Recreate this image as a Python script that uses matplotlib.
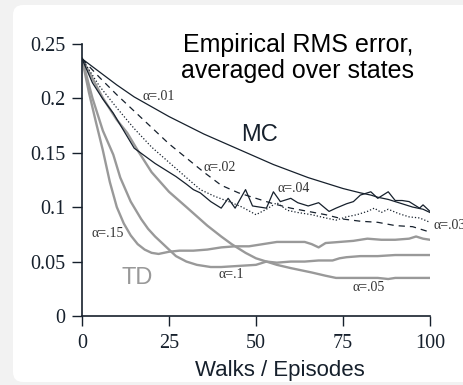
import matplotlib
matplotlib.use("Agg")
import matplotlib.pyplot as plt
from matplotlib.patches import FancyBboxPatch

# MC curves (black), RMS error vs. walks
mc01_x = [0, 5, 10, 15, 20, 25, 30, 35, 40, 45, 50, 55, 60, 65, 70, 75, 80, 83, 85, 88, 90, 93, 95, 98, 100]
mc01_y = [0.236, 0.224, 0.212, 0.201, 0.192, 0.183, 0.175, 0.167, 0.160, 0.153, 0.146, 0.139, 0.133, 0.127, 0.122, 0.117, 0.113, 0.111, 0.109, 0.107, 0.105, 0.102, 0.100, 0.098, 0.095]

mc02_x = [0, 5, 10, 15, 20, 25, 30, 35, 40, 45, 50, 55, 60, 65, 70, 75, 80, 85, 90, 95, 100]
mc02_y = [0.236, 0.219, 0.203, 0.188, 0.173, 0.158, 0.145, 0.132, 0.120, 0.113, 0.108, 0.103, 0.099, 0.096, 0.093, 0.089, 0.087, 0.086, 0.083, 0.082, 0.077]

mc03_x = [0, 5, 10, 15, 20, 25, 30, 34, 38, 43, 46, 50, 53, 56, 59, 62, 66, 70, 73, 76, 79, 82, 84, 86, 88, 91, 94, 97, 100]
mc03_y = [0.236, 0.211, 0.191, 0.172, 0.155, 0.141, 0.127, 0.116, 0.110, 0.104, 0.100, 0.093, 0.098, 0.104, 0.097, 0.095, 0.093, 0.090, 0.088, 0.091, 0.093, 0.096, 0.099, 0.095, 0.098, 0.094, 0.091, 0.090, 0.086]

mc04_x = [0, 3, 6, 9, 12, 15, 18, 21, 24, 27, 30, 32, 34, 37, 40, 42, 44, 47, 49, 51, 53, 55, 57, 60, 62, 65, 68, 71, 73, 76, 78, 80, 83, 85, 88, 90, 92, 94, 97, 98, 100]
mc04_y = [0.236, 0.214, 0.199, 0.186, 0.170, 0.154, 0.147, 0.140, 0.134, 0.128, 0.121, 0.116, 0.113, 0.105, 0.099, 0.108, 0.099, 0.116, 0.101, 0.100, 0.099, 0.114, 0.105, 0.108, 0.104, 0.101, 0.104, 0.096, 0.099, 0.103, 0.105, 0.111, 0.114, 0.108, 0.114, 0.106, 0.106, 0.105, 0.099, 0.102, 0.096]

# TD curves (gray)
td15_x = [0, 2, 4, 6, 8, 10, 12, 14, 16, 18, 20, 22, 25, 28, 32, 36, 40, 44, 48, 52, 56, 60, 64, 66, 68, 70, 74, 78, 82, 86, 90, 94, 96, 98, 100]
td15_y = [0.236, 0.205, 0.178, 0.152, 0.123, 0.100, 0.085, 0.074, 0.066, 0.061, 0.058, 0.057, 0.059, 0.060, 0.060, 0.061, 0.063, 0.064, 0.064, 0.066, 0.068, 0.068, 0.068, 0.066, 0.063, 0.067, 0.068, 0.069, 0.071, 0.070, 0.070, 0.071, 0.073, 0.071, 0.070]

td10_x = [0, 3, 6, 9, 11, 14, 17, 19, 21, 23, 25, 27, 30, 33, 37, 40, 45, 50, 53, 56, 60, 64, 68, 72, 74, 76, 80, 85, 90, 95, 100]
td10_y = [0.236, 0.200, 0.170, 0.148, 0.127, 0.105, 0.089, 0.080, 0.073, 0.067, 0.061, 0.055, 0.050, 0.047, 0.045, 0.045, 0.046, 0.047, 0.050, 0.049, 0.050, 0.050, 0.051, 0.051, 0.053, 0.054, 0.055, 0.055, 0.056, 0.056, 0.056]

td05_x = [0, 3, 6, 10, 13, 16, 20, 25, 30, 36, 40, 43, 47, 50, 53, 56, 60, 63, 66, 70, 73, 76, 80, 85, 88, 90, 95, 100]
td05_y = [0.236, 0.218, 0.200, 0.180, 0.168, 0.152, 0.132, 0.114, 0.100, 0.083, 0.073, 0.066, 0.058, 0.053, 0.050, 0.047, 0.044, 0.042, 0.040, 0.037, 0.035, 0.035, 0.035, 0.035, 0.034, 0.035, 0.035, 0.035]

x_ticks = [0, 25, 50, 75, 100]
y_ticks = [0, 0.05, 0.1, 0.15, 0.2, 0.25]
y_tick_labels = ["0", "0.05", "0.1", "0.15", "0.2", "0.25"]

navy = "#16202c"
gray = "#999999"
serif = ["Liberation Serif", "DejaVu Serif"]
sans = ["Liberation Sans", "DejaVu Sans"]

fig = plt.figure(figsize=(4.64, 3.85), dpi=100)
fig.patch.set_facecolor("#f2f2f2")

# white rounded card behind the plot
bg = fig.add_axes([0, 0, 1, 1], zorder=0)
bg.set_xlim(0, 464)
bg.set_ylim(0, 385)
bg.axis("off")
bg.add_patch(FancyBboxPatch((13, 3), 480, 377, boxstyle="round,pad=0,rounding_size=10",
                            facecolor="white", edgecolor="none"))

ax = fig.add_axes([0.1767, 0.179, 0.75, 0.708], zorder=2)
ax.set_facecolor("none")

ax.plot(td15_x, td15_y, color=gray, lw=1.7)
ax.plot(td10_x, td10_y, color=gray, lw=1.7)
ax.plot(td05_x, td05_y, color=gray, lw=1.7)
ax.plot(mc01_x, mc01_y, color=navy, lw=0.9)
ax.plot(mc02_x, mc02_y, color=navy, lw=0.9, dashes=(5, 4))
ax.plot(mc03_x, mc03_y, color=navy, lw=0.9, dashes=(1, 1.6))
ax.plot(mc04_x, mc04_y, color=navy, lw=0.9)

ax.set_xlim(0, 100)
ax.set_ylim(0, 0.25)
ax.set_xticks(x_ticks)
ax.set_yticks(y_ticks)
ax.set_yticklabels(y_tick_labels)
for s in ["top", "right"]:
    ax.spines[s].set_visible(False)
for s in ["left", "bottom"]:
    ax.spines[s].set_color(navy)
    ax.spines[s].set_linewidth(1.2)
ax.tick_params(colors=navy, length=7, width=1.0, labelsize=14.5, pad=5)
for lab in ax.get_xticklabels() + ax.get_yticklabels():
    lab.set_family(serif)
ax.tick_params(axis="x", pad=6)

ax.set_xlabel("Walks / Episodes", fontsize=16, color=navy, family=sans, va="center")
ax.xaxis.set_label_coords(0.57, -0.198)

# inline labels
lab_kw = dict(fontsize=10, family=serif, color="#333333", va="center")
ax.text(17.5, 0.2015, "α=.01", **lab_kw)
ax.text(34.8, 0.136, "α=.02", **lab_kw)
ax.text(56.3, 0.117, "α=.04", **lab_kw)
ax.text(100.9, 0.083, "α=.03", clip_on=False, **lab_kw)
ax.text(2.6, 0.076, "α=.15", **lab_kw)
ax.text(39.2, 0.0385, "α=.1", **lab_kw)
ax.text(77.6, 0.026, "α=.05", **lab_kw)

ax.text(51, 0.166, "MC", fontsize=17, family=sans, color=navy, va="center", ha="center")
ax.text(15.8, 0.035, "TD", fontsize=17, family=sans, color=gray, va="center", ha="center")

fig.text(0.642, 0.849, "Empirical RMS error,\naveraged over states", fontsize=18, family=sans,
         color="black", ha="center", va="center", linespacing=1.1)

fig.savefig("out.png", dpi=100, facecolor=fig.get_facecolor())
